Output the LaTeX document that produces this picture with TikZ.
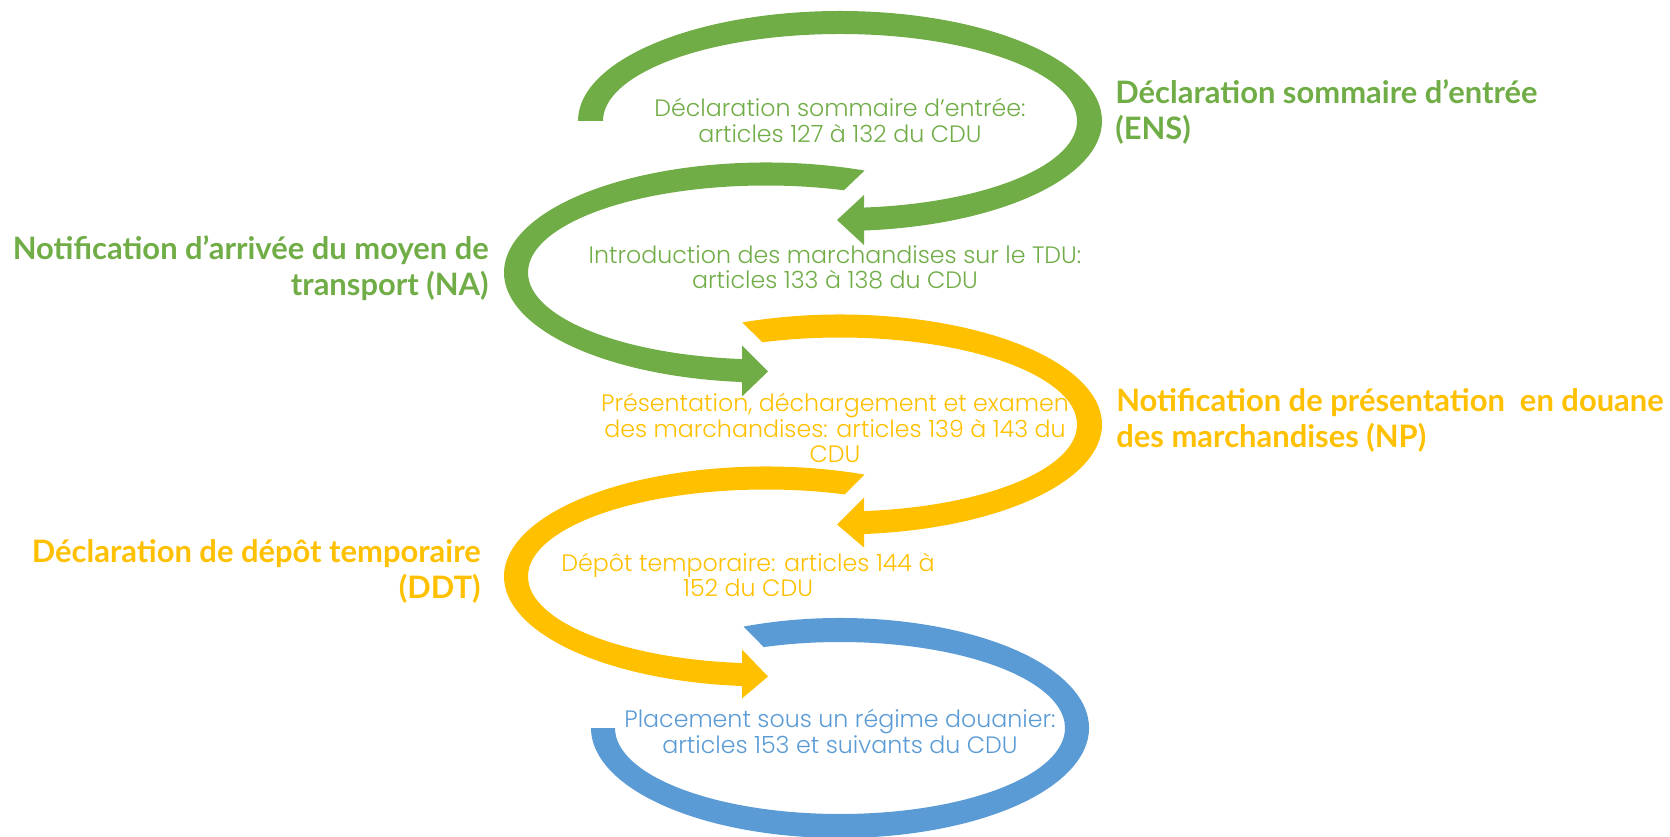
\documentclass[tikz,border=0pt]{standalone}
\usepackage{fontspec}
\setmainfont{Lato}
\newfontfamily\fin{Poppins Light}
\definecolor{vert}{HTML}{70AD47}
\definecolor{jaune}{HTML}{FFC000}
\definecolor{bleu}{HTML}{5B9BD5}

\begin{document}
\begin{tikzpicture}[x=0.02cm,y=0.02cm,
  dedans/.style={align=center,inner sep=0pt,font=\fin\fontsize{13.5}{14.6}\selectfont},
  titre/.style={inner sep=0pt,font=\bfseries\fontsize{17.6}{20.4}\selectfont}]
\useasboundingbox (0,0) rectangle (1670,836);

\begin{scope}[shift={(840,715)}]
\fill[vert] (180:262 and 110) arc[start angle=180,end angle=-84.74,x radius=262,y radius=110]
  -- (24,-124) -- (-3,-99) -- (24,-74) -- (-84.19:237 and 87)
  arc[start angle=-84.19,end angle=180,x radius=237,y radius=87] -- cycle;
\end{scope}

\begin{scope}[shift={(766,563.5)}]
\fill[vert] (67.9:262 and 110) arc[start angle=67.9,end angle=264.74,x radius=262,y radius=110]
  -- (-24,-124) -- (2,-99) -- (-24,-73) -- (264.21:238 and 87)
  arc[start angle=264.21,end angle=70.9,x radius=238,y radius=87] -- cycle;
\end{scope}

\begin{scope}[shift={(840,411.5)}]
\fill[jaune] (111.9:262 and 110) arc[start angle=111.9,end angle=-84.74,x radius=262,y radius=110]
  -- (24,-123) -- (-3,-100) -- (24,-73) -- (-84.19:237 and 87)
  arc[start angle=-84.19,end angle=109.1,x radius=237,y radius=87] -- cycle;
\end{scope}

\begin{scope}[shift={(766,259.5)}]
\fill[jaune] (67.9:262 and 110) arc[start angle=67.9,end angle=264.74,x radius=262,y radius=110]
  -- (-24,-122) -- (2,-100) -- (-24,-73) -- (264.21:238 and 87)
  arc[start angle=264.21,end angle=70.7,x radius=238,y radius=87] -- cycle;
\end{scope}

\begin{scope}[shift={(840,108)}]
\fill[bleu] (112.8:249 and 110) arc[start angle=112.8,end angle=-180,x radius=249,y radius=110]
  -- (-180:225 and 86)
  arc[start angle=-180,end angle=109.8,x radius=225,y radius=86] -- cycle;
\end{scope}

\node[dedans,text=vert] (ens-txt) at (840,715.5) {Déclaration sommaire d’entrée:\\articles 127 à 132 du CDU};
\node[dedans,text=vert] (na-txt) at (835,568.5) {Introduction des marchandises sur le TDU:\\articles 133 à 138 du CDU};
\node[dedans,text=jaune] (np-txt) at (835,408) {Présentation, déchargement et examen\\des marchandises: articles 139 à 143 du\\CDU};
\node[dedans,text=jaune] (ddt-txt) at (748,261) {Dépôt temporaire: articles 144 à\\152 du CDU};
\node[dedans,text=bleu] (reg-txt) at (840,104.5) {Placement sous un régime douanier:\\articles 153 et suivants du CDU};

\node[titre,text=vert,anchor=west,align=left] (ens) at (1115,724) {Déclaration sommaire d’entrée\\(ENS)};
\node[titre,text=vert,anchor=east,align=right] (na) at (489,567.5) {Notification d’arrivée du moyen de\\transport (NA)};
\node[titre,text=jaune,anchor=west,align=left] (np) at (1116,415.5) {Notification de présentation\ \ en douane\\des marchandises (NP)};
\node[titre,text=jaune,anchor=east,align=right] (ddt) at (481,264.5) {Déclaration de dépôt temporaire\\(DDT)};
\end{tikzpicture}
\end{document}
